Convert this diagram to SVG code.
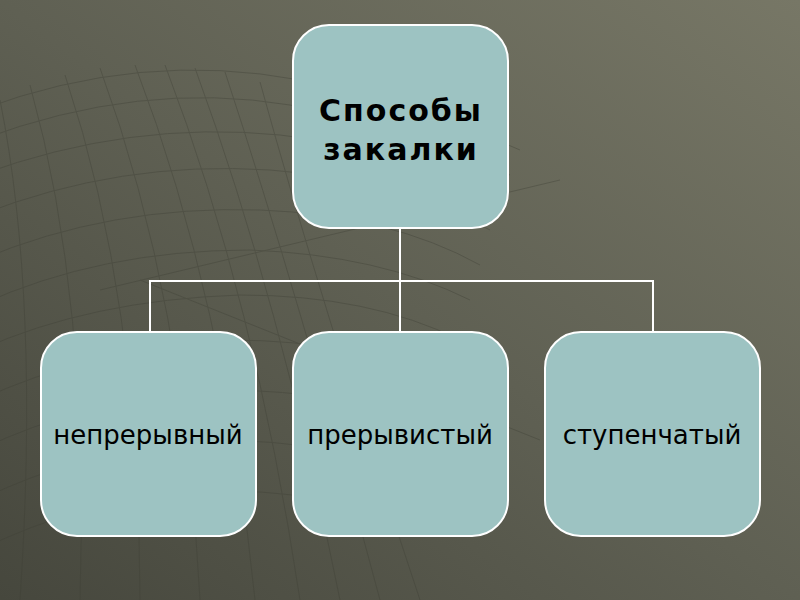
<svg xmlns="http://www.w3.org/2000/svg" width="800" height="600" viewBox="0 0 800 600">
<defs>
<linearGradient id="bg" x1="0" y1="1" x2="1" y2="0">
<stop offset="0" stop-color="#46473d"/>
<stop offset="0.5" stop-color="#5f6053"/>
<stop offset="1" stop-color="#777766"/>
</linearGradient>
<clipPath id="gridclip"><rect x="0" y="60" width="560" height="540"/></clipPath>
</defs>
<style>
.node rect{fill:#9dc3c2;stroke:#ffffff;stroke-width:2}
.title{font-family:"DejaVu Sans",sans-serif;font-weight:bold;font-size:30px;letter-spacing:2px;fill:#000;text-anchor:middle}
.label{font-family:"DejaVu Sans",sans-serif;font-size:26px;fill:#000;text-anchor:middle}
.conn{fill:none;stroke:#ffffff;stroke-width:2}
.grid{fill:none;stroke:#3f4036;stroke-width:1;opacity:0.38}
</style>
<rect width="800" height="600" fill="url(#bg)"/>
<g class="grid" clip-path="url(#gridclip)">
<path d="M-20 110 Q140 50 300 80 Q430 110 520 150"/>
<path d="M-20 140 Q140 80 290 105 Q420 130 510 175"/>
<path d="M-20 175 Q130 120 280 135 Q410 150 500 200"/>
<path d="M-20 215 Q120 160 270 170 Q400 180 490 230"/>
<path d="M-20 260 Q110 205 260 210 Q390 215 480 265"/>
<path d="M-20 305 Q100 250 250 250 Q380 255 470 300"/>
<path d="M-20 350 Q90 300 240 295 Q370 295 460 340"/>
<path d="M-20 400 Q85 350 230 340 Q360 340 450 385"/>
<path d="M-20 450 Q80 400 220 390 Q350 390 440 430"/>
<path d="M-20 500 Q80 450 210 440 Q340 440 430 480"/>
<path d="M-20 550 Q80 500 200 490 Q330 490 420 525"/>
<path d="M0 100 Q40 300 20 600"/>
<path d="M30 85 Q90 300 80 600"/>
<path d="M65 75 Q140 300 140 600"/>
<path d="M100 68 Q185 300 200 600"/>
<path d="M135 65 Q225 300 255 600"/>
<path d="M165 65 Q255 300 300 600"/>
<path d="M195 68 Q280 300 340 600"/>
<path d="M225 72 Q300 300 380 600"/>
<path d="M260 82 Q320 300 420 600"/>
<path d="M100 290 L560 180"/>
<path d="M140 280 L540 440"/>
</g>
<g id="connectors">
<path class="conn" d="M400 228 V281 M150 331 V281 H653 V331 M400 281 V331"/>
</g>
<g id="node-root" class="node">
<rect x="293" y="25" width="215" height="203" rx="36"/>
<text class="title" x="401" y="121">Способы</text>
<text class="title" x="401" y="160">закалки</text>
</g>
<g id="node-continuous" class="node">
<rect x="41" y="332" width="215" height="204" rx="36"/>
<text class="label" x="148" y="444">непрерывный</text>
</g>
<g id="node-interrupted" class="node">
<rect x="293" y="332" width="215" height="204" rx="36"/>
<text class="label" x="400" y="444">прерывистый</text>
</g>
<g id="node-stepped" class="node">
<rect x="545" y="332" width="215" height="204" rx="36"/>
<text class="label" x="652" y="444">ступенчатый</text>
</g>
</svg>
